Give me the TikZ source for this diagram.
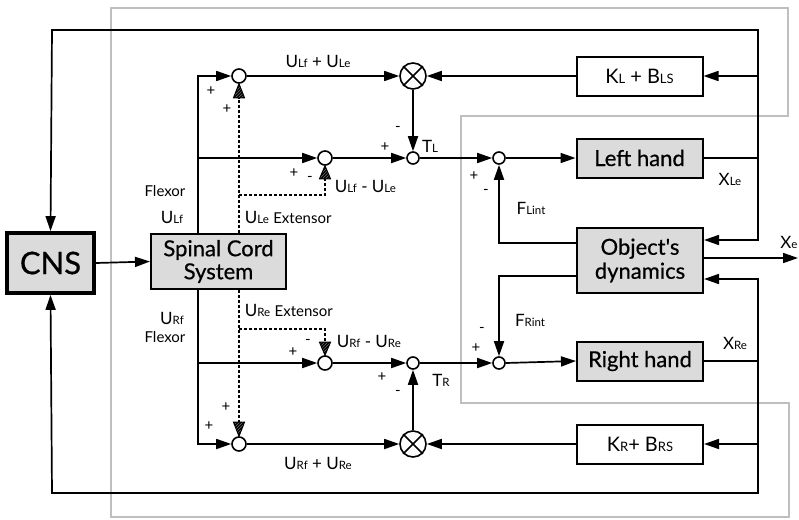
\documentclass[tikz,border=0pt]{standalone}
\usepackage{fontspec}
\setmainfont{Lato}
\newfontfamily\medfont{Lato}[FakeBold=0.6]
\usetikzlibrary{arrows.meta,calc}
\newcommand\sbs[1]{{\fontsize{11.5}{11.5}\selectfont #1}}
\newcommand\bsbs[1]{{\fontsize{13}{13}\selectfont #1}}
\newcommand\smlf{\fontsize{15}{15}\selectfont}
\newcommand\hatchtri[2]{%
  \begin{scope}
    \clip (#1) -- ++(-5.5,#2) -- ++(11,0) -- cycle;
    \fill[gray!45] (#1) -- ++(-5.5,#2) -- ++(11,0) -- cycle;
    \foreach \k in {-24,-21,...,24} \draw[line width=1.5pt] ($(#1)+(\k,0)+(-16,16)$) -- ++(32,-32);
  \end{scope}
  \draw[line width=1pt, line join=miter] (#1) -- ++(-5.5,#2) -- ++(11,0) -- cycle;}
\begin{document}
\begin{tikzpicture}[x=1pt,y=-1pt,
 line width=1.7pt,
 arr/.style={-{Triangle[length=15pt,width=10pt]}},
 dsh/.style={densely dashed, line width=1.3pt},
 blk/.style={draw, line width=2pt, minimum width=126pt, minimum height=39pt, inner sep=0pt, font=\medfont\fontsize{22}{24}\selectfont},
 gblk/.style={blk, fill=gray!28},
 sumc/.style={circle, draw, fill=white, line width=1.6pt, minimum size=14pt, inner sep=0pt},
 ssum/.style={sumc, minimum size=12pt},
 mul/.style={sumc, minimum size=26pt},
 lab/.style={font=\fontsize{17}{17}\selectfont, inner sep=0pt},
 sml/.style={font=\smlf, inner sep=0pt},
 sgn/.style={font=\fontsize{15}{15}\selectfont, inner sep=0pt}
]
\useasboundingbox (0,0) rectangle (799,519);
% frame
\draw[gray!50, line width=2.5pt] (111,8) -- (788,8) -- (788,116) -- (461,116) -- (461,403) -- (789,403) -- (789,517) -- (111,517) -- cycle;

% blocks
\node[gblk, line width=3.8pt, minimum width=87pt, minimum height=60pt, font=\medfont\fontsize{31}{31}\selectfont] (cns) at (50.5,263) {CNS};
\node[gblk, minimum width=135pt, minimum height=55pt, align=center, font=\medfont\fontsize{22}{23}\selectfont] (scs) at (218.5,261.5) {Spinal Cord\\System};
\node[blk, font=\fontsize{20}{20}\selectfont] (kl) at (639.5,76) {K\bsbs{L} + B\bsbs{LS}};
\node[gblk] (lh) at (639.5,158) {Left hand};
\node[gblk, minimum height=65pt, align=center] (obj) at (640,260.5) {Object's\\dynamics};
\node[gblk] (rh) at (640,361) {Right hand};
\node[blk, font=\fontsize{20}{20}\selectfont] (kr) at (640,444) {K\bsbs{R}+ B\bsbs{RS}};

% summing junctions
\node[sumc] (sLa) at (239,76) {};
\node[sumc] (sLb) at (325,158) {};
\node[mul] (mL) at (413,76) {};
\node[ssum] (tL) at (413,158) {};
\node[ssum] (fL) at (499,158) {};
\node[sumc] (sRa) at (239,444) {};
\node[sumc] (sRb) at (325,363) {};
\node[mul] (mR) at (413,444) {};
\node[ssum] (tR) at (413,363) {};
\node[ssum] (fR) at (499,363) {};
\draw (mL.north west) -- (mL.south east) (mL.north east) -- (mL.south west);
\draw (mR.north west) -- (mR.south east) (mR.north east) -- (mR.south west);

% coordinates
\coordinate (fx) at (198,0);
\coordinate (ex) at (239,0);
\coordinate (xr) at (758,0);
\coordinate (jL) at (239,195);
\coordinate (jR) at (239,329);
\coordinate (yFL) at (0,243);
\coordinate (yFR) at (0,276);
\coordinate (yOa) at (0,240);
\coordinate (yOb) at (0,279);
\coordinate (xe) at (798,258);
\coordinate (TRc) at (758,30);
\coordinate (TLc) at (52,30);
\coordinate (BRc) at (758,493);
\coordinate (BLc) at (52,493);

% CNS to spinal cord
\draw[arr] (cns.east) -- (scs.west);

% upper (left) branch
\draw[arr] (scs.north -| fx) |- (sLa.west);
\draw[arr] (fx |- sLb) -- (sLb.west);
\draw[dsh] (scs.north -| ex) -- ([yshift=-14pt]sLa.south);
\draw[dsh] (jL) -| ([yshift=-13pt]sLb.south);
\hatchtri{sLa.south}{14}
\hatchtri{sLb.south}{13}
\draw[arr] (sLa.east) -- (mL.west);
\draw[arr] (kl.west) -- (mL.east);
\draw[arr] (mL.south) -- (tL.north);
\draw[arr] (sLb.east) -- (tL.west);
\draw[arr] (tL.east) -- (fL.west);
\draw[arr] (fL.east) -- (lh.west);
\draw[arr] (obj.west |- yFL) -| (fL.south);

% lower (right) branch
\draw[arr] (scs.south -| fx) |- (sRa.west);
\draw[arr] (fx |- sRb) -- (sRb.west);
\draw[dsh] (scs.south -| ex) -- ([yshift=14pt]sRa.north);
\draw[dsh] (jR) -| ([yshift=13pt]sRb.north);
\hatchtri{sRa.north}{-14}
\hatchtri{sRb.north}{-13}
\draw[arr] (sRa.east) -- (mR.west);
\draw[arr] (kr.west) -- (mR.east);
\draw[arr] (mR.north) -- (tR.south);
\draw[arr] (sRb.east) -- (tR.west);
\draw[arr] (tR.east) -- (fR.west);
\draw[arr] (fR.east) -- (rh.west);
\draw[arr] (obj.west |- yFR) -| (fR.north);

% right feedback, left
\draw (lh.east) -- (lh.east -| xr);
\draw[arr] (lh.east -| xr) -- (TRc) -- (TLc) -- (cns.north);
\draw[arr] (lh.east -| xr) |- (obj.east |- yOa);
\draw[arr] (kl.east -| xr) -- (kl.east);
\draw[arr] (obj.east |- xe) -- (xe);

% right feedback, right
\draw (rh.east) -- (rh.east -| xr);
\draw[arr] (rh.east -| xr) -- (BRc) -- (BLc) -- (cns.south);
\draw[arr] (rh.east -| xr) |- (obj.east |- yOb);
\draw[arr] (kr.east -| xr) -- (kr.east);

% labels
\node[lab] at (318,61) {U\sbs{Lf} + U\sbs{Le}};
\node[sgn] at (211,91) {+};
\node[sgn] at (227,109) {+};
\node[sgn] at (294,173) {+};
\node[sgn] at (310,179) {-};
\node[lab, anchor=west] at (334,186) {U\sbs{Lf} - U\sbs{Le}};
\node[sml] at (165,191) {Flexor};
\node[lab] at (172,217) {U\sbs{Lf}};
\node[lab, anchor=west] at (244,217) {U\sbs{Le} {\smlf Extensor}};
\node[sgn] at (398,129) {-};
\node[sgn] at (385,147) {+};
\node[lab] at (430,146) {T\sbs{L}};
\node[sgn] at (474,176) {+};
\node[sgn] at (486,192) {-};
\node[lab] at (531,208) {F\sbs{Lint}};
\node[lab] at (730,179) {X\sbs{Le}};
\node[lab] at (789,242) {X\sbs{e}};
\node[lab] at (735,343) {X\sbs{Re}};
\node[lab] at (530,320) {F\sbs{Rint}};
\node[sgn] at (482,330) {-};
\node[sgn] at (476,348) {+};
\node[sgn] at (382,377) {+};
\node[sgn] at (398,393) {-};
\node[lab] at (441,380) {T\sbs{R}};
\node[lab, anchor=west] at (336,341) {U\sbs{Rf} - U\sbs{Re}};
\node[sgn] at (308,342) {-};
\node[sgn] at (293,352) {+};
\node[lab, anchor=west] at (244,310) {U\sbs{Re} {\smlf Extensor}};
\node[lab] at (172,318) {U\sbs{Rf}};
\node[sml] at (165,337) {Flexor};
\node[sgn] at (226,407) {+};
\node[sgn] at (209,426) {+};
\node[lab] at (318,463) {U\sbs{Rf} + U\sbs{Re}};
\end{tikzpicture}
\end{document}
